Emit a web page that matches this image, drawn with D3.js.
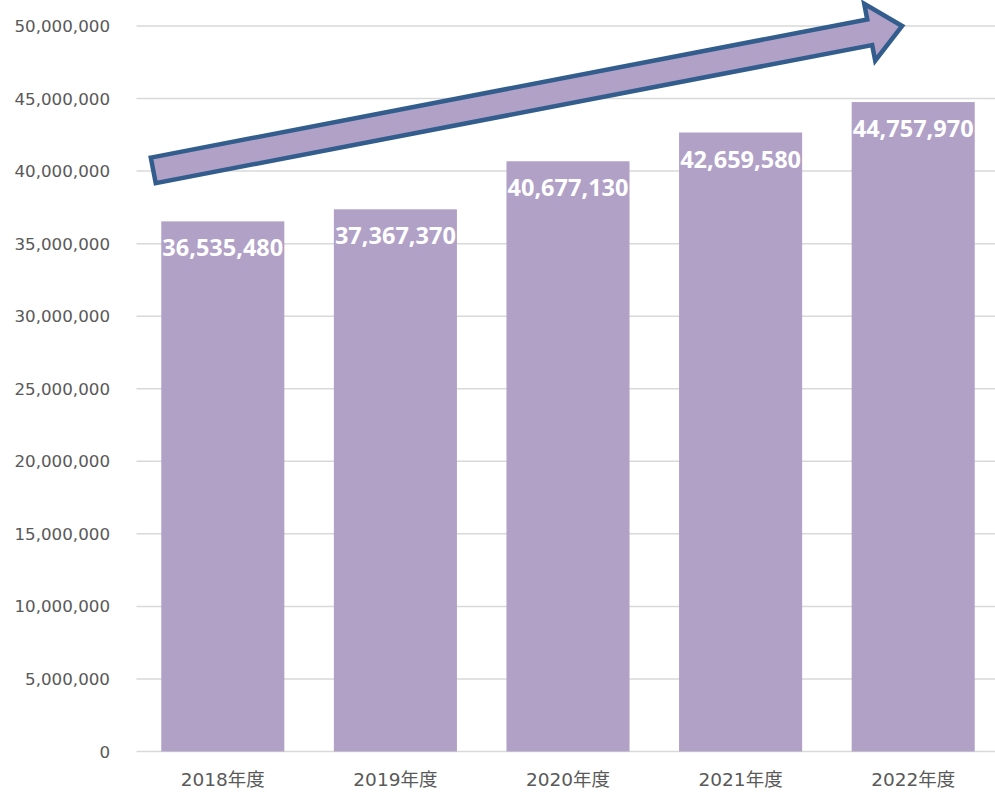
<!DOCTYPE html>
<html>
<head>
<meta charset="utf-8">
<script src="https://cdn.jsdelivr.net/npm/d3@7"></script>
<style>
  body { margin: 0; background: #fff; }
  .axis text { font-family: "DejaVu Sans", "Noto Sans CJK JP", sans-serif; fill: #595959; }
  .bar-label { font-family: "Open Sans", "Liberation Sans", sans-serif; font-weight: bold; fill: #fff; }
</style>
</head>
<body>
<div id="chart"></div>
<script>
// chart data
let categories = ["2018年度", "2019年度", "2020年度", "2021年度", "2022年度"];
let values = [36535480, 37367370, 40677130, 42659580, 44757970];
let yTicks = [0, 5000000, 10000000, 15000000, 20000000, 25000000, 30000000, 35000000, 40000000, 45000000, 50000000];

let width = 995, height = 795;
let margin = { top: 26, right: -4.5, bottom: 43.5, left: 136.5 };

let svg = d3.select("#chart").append("svg")
    .attr("width", width)
    .attr("height", height);

let x = d3.scaleBand()
    .domain(categories)
    .range([margin.left, width - margin.right])
    .paddingInner(0.287)
    .paddingOuter(0.1435);

let y = d3.scaleLinear()
    .domain([0, 50000000])
    .range([height - margin.bottom, margin.top]);

let fmt = d3.format(",");

// gridlines
svg.append("g")
    .selectAll("line")
    .data(yTicks)
    .enter()
    .append("line")
    .attr("x1", margin.left)
    .attr("x2", width)
    .attr("y1", d => y(d))
    .attr("y2", d => y(d))
    .attr("stroke", "#d9d9d9")
    .attr("stroke-width", 1.5);

// y tick labels
svg.append("g")
    .attr("class", "axis")
    .selectAll("text")
    .data(yTicks)
    .enter()
    .append("text")
    .attr("x", 110)
    .attr("y", d => y(d))
    .attr("dy", "0.36em")
    .attr("text-anchor", "end")
    .style("font-size", "16.7px")
    .text(d => fmt(d));

// x labels
svg.append("g")
    .attr("class", "axis")
    .selectAll("text")
    .data(categories)
    .enter()
    .append("text")
    .attr("x", d => x(d) + x.bandwidth() / 2)
    .attr("y", y(0) + 34.5)
    .attr("text-anchor", "middle")
    .style("font-size", "18.5px")
    .text(d => d);

// bars
svg.append("g")
    .selectAll("rect")
    .data(values)
    .enter()
    .append("rect")
    .attr("x", (d, i) => x(categories[i]))
    .attr("y", d => y(d))
    .attr("width", x.bandwidth())
    .attr("height", d => y(0) - y(d))
    .attr("fill", "#b1a1c7");

// value labels, inside end
svg.append("g")
    .selectAll("text")
    .data(values)
    .enter()
    .append("text")
    .attr("class", "bar-label")
    .attr("x", (d, i) => x(categories[i]) + x.bandwidth() / 2)
    .attr("y", d => y(d) + 35)
    .attr("text-anchor", "middle")
    .style("font-size", "23.5px")
    .text(d => fmt(d));

// trend arrow (block arrow shape), anchored through the scales
let start = [x(categories[0]) - 8, y(40050000)];
let end = [x(categories[4]) + x.bandwidth() * 0.41, y(50000000)];
let dx = end[0] - start[0], dy = end[1] - start[1];
let len = Math.sqrt(dx * dx + dy * dy);
let angle = Math.atan2(dy, dx) * 180 / Math.PI;
let bodyHalf = 13, headHalf = 29, headLen = 33;

let arrowPts = [
    [0, -bodyHalf], [len - headLen, -bodyHalf], [len - headLen, -headHalf],
    [len, 0],
    [len - headLen, headHalf], [len - headLen, bodyHalf], [0, bodyHalf]
];

svg.append("path")
    .attr("d", d3.line()(arrowPts) + "Z")
    .attr("transform", "translate(" + start[0] + "," + start[1] + ") rotate(" + angle + ")")
    .attr("fill", "#b1a1c7")
    .attr("stroke", "#335d8c")
    .attr("stroke-width", 4.5)
    .attr("stroke-linejoin", "miter");
</script>
</body>
</html>
